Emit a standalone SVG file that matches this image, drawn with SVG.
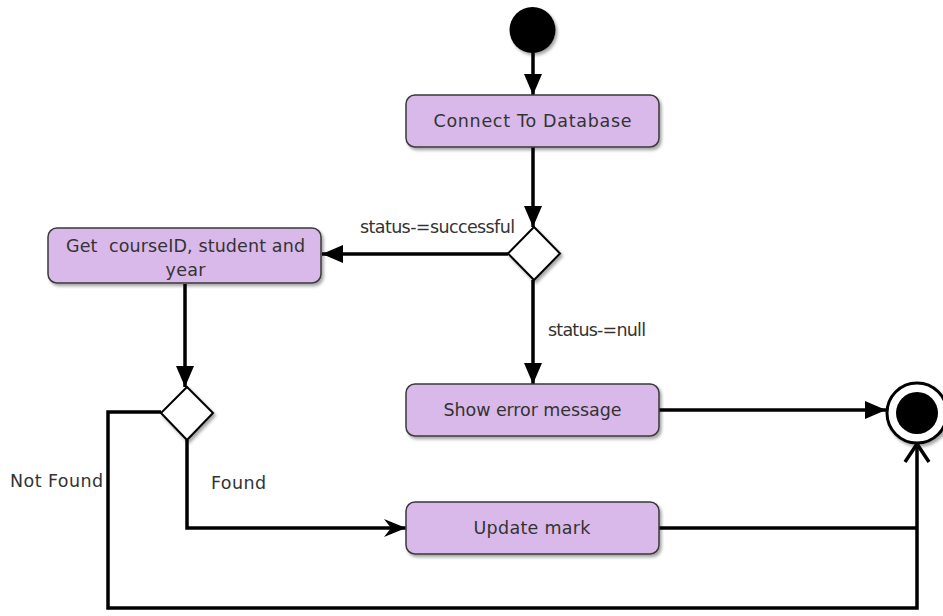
<svg xmlns="http://www.w3.org/2000/svg" width="943" height="616" viewBox="0 0 943 616">
<style>
.box{fill:#d9b9e9;stroke:#3a3a3a;stroke-width:1.5;filter:url(#sh)}
.dia{fill:#ffffff;stroke:#000;stroke-width:2;filter:url(#sh)}
.lbl{font-family:"DejaVu Sans","Liberation Sans",sans-serif;font-size:17.5px;fill:#333333;white-space:pre}
.edge{fill:none;stroke:#000;stroke-width:3.5}
</style>
<defs>
<filter id="sh" x="-20%" y="-20%" width="140%" height="150%">
<feDropShadow dx="2" dy="2.5" stdDeviation="1.5" flood-color="#000" flood-opacity="0.35"/>
</filter>
<marker id="tri" markerUnits="userSpaceOnUse" markerWidth="22" markerHeight="20" refX="21" refY="10" orient="auto">
<path d="M0,1 L21,10 L0,19 z" fill="#000"/>
</marker>
<marker id="notch" markerUnits="userSpaceOnUse" markerWidth="24" markerHeight="20" refX="22" refY="10" orient="auto">
<path d="M0,1 L22,10 L0,19 L7,10 z" fill="#000"/>
</marker>
</defs>
<g id="connectors">
<line class="edge" x1="533" y1="52" x2="533" y2="95" marker-end="url(#tri)"/>
<line class="edge" x1="533" y1="147" x2="533" y2="227" marker-end="url(#tri)"/>
<line class="edge" x1="508" y1="254" x2="322" y2="254" marker-end="url(#tri)"/>
<line class="edge" x1="533" y1="280" x2="533" y2="384" marker-end="url(#tri)"/>
<line class="edge" x1="185" y1="284" x2="185" y2="387" marker-end="url(#tri)"/>
<line class="edge" x1="659" y1="410" x2="886" y2="410" marker-end="url(#tri)"/>
<polyline class="edge" points="187,440 187,528 406,528" marker-end="url(#notch)"/>
<polyline class="edge" points="659,528 917,528"/>
<polyline class="edge" points="161,412 108,412 108,608 917,608 917,445"/>
<polyline class="edge" points="905,462 917,444 929,462" stroke-width="3"/>
<text class="lbl" x="360" y="233" textLength="155">status-=successful</text>
<text class="lbl" x="548" y="336" textLength="98">status-=null</text>
<text class="lbl" x="10" y="487" textLength="93">Not Found</text>
<text class="lbl" x="211" y="489" textLength="55">Found</text>
</g>
<g id="start">
<circle cx="532.5" cy="30" r="23" fill="#000" filter="url(#sh)"/>
</g>
<g id="connect">
<rect class="box" x="406" y="95" width="253" height="52" rx="9"/>
<text class="lbl" x="532.5" y="127" text-anchor="middle" textLength="198">Connect To Database</text>
</g>
<g id="decision1">
<polygon class="dia" points="534,227 560,253.5 534,280 508,253.5"/>
</g>
<g id="getinfo">
<rect class="box" x="48" y="228" width="273" height="55" rx="9"/>
<text class="lbl" x="185.5" y="252" text-anchor="middle" textLength="239" xml:space="preserve">Get  courseID, student and</text>
<text class="lbl" x="185.5" y="276" text-anchor="middle" textLength="40">year</text>
</g>
<g id="decision2">
<polygon class="dia" points="187,387 213,413 187,440 161,413"/>
</g>
<g id="showerror">
<rect class="box" x="406" y="384" width="253" height="52" rx="9"/>
<text class="lbl" x="532.5" y="416" text-anchor="middle" textLength="178">Show error message</text>
</g>
<g id="update">
<rect class="box" x="406" y="502" width="253" height="52" rx="9"/>
<text class="lbl" x="532" y="534" text-anchor="middle" textLength="117">Update mark</text>
</g>
<g id="end">
<circle cx="917" cy="413" r="30" fill="#fff" stroke="#000" stroke-width="3" filter="url(#sh)"/>
<circle cx="917" cy="413" r="21" fill="#000"/>
</g>
</svg>
